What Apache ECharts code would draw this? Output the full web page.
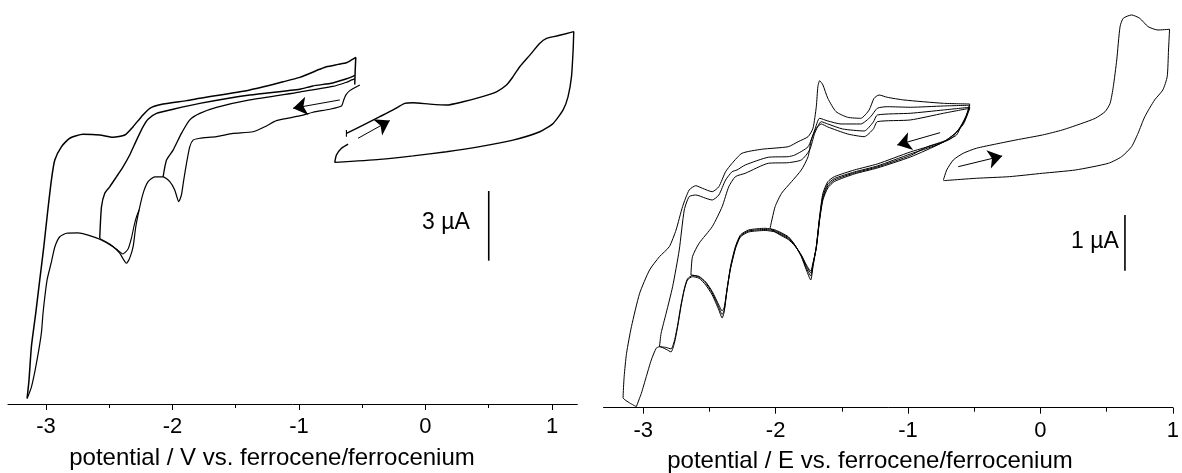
<!DOCTYPE html>
<html><head><meta charset="utf-8">
<script src="https://cdn.jsdelivr.net/npm/echarts@6/dist/echarts.min.js"></script>
<style>html,body{margin:0;padding:0;background:#fff}#c{width:1182px;height:473px}</style>
</head><body><div id="c"></div>
<script>
// ---- tick labels / titles ----
const xTickValues = [-3, -2, -1, 0, 1];
const xMinorTicks = [-2.5, -1.5, -0.5, 0.5];
const leftXTitle = 'potential / V vs. ferrocene/ferrocenium';
const rightXTitle = 'potential / E vs. ferrocene/ferrocenium';
const leftScaleLabel = '3 \u00b5A';
const rightScaleLabel = '1 \u00b5A';

// ---- left panel: [potential V, current µA] ----
const leftForward = [[-0.519,1.73],[-0.598,1.49],[-0.630,1.30],[-0.646,1.09],[-0.664,0.83],[-0.757,0.69],[-0.889,0.56],[-0.994,0.40],[-1.178,0.20],[-1.257,-0.03],[-1.363,-0.28],[-1.521,-0.35],[-1.652,-0.49],[-1.784,-0.56],[-1.837,-0.64],[-1.863,-0.92],[-1.889,-1.64],[-1.911,-2.36],[-1.929,-3.00],[-1.950,-3.29],[-1.982,-2.79],[-2.021,-2.43],[-2.074,-2.22],[-2.140,-2.22],[-2.193,-2.43],[-2.232,-2.93],[-2.264,-3.65],[-2.290,-4.37],[-2.311,-5.23],[-2.338,-5.72],[-2.364,-5.94],[-2.417,-5.51],[-2.470,-5.23],[-2.575,-4.91],[-2.667,-4.73],[-2.746,-4.63],[-2.838,-4.65],[-2.891,-4.80],[-2.930,-5.24],[-2.957,-5.89],[-2.991,-6.66],[-3.023,-8.08],[-3.036,-8.94],[-3.075,-10.24],[-3.115,-11.27],[-3.149,-11.76]];
const leftReturnOuter = [[-3.149,-11.76],[-3.134,-10.97],[-3.115,-9.53],[-3.081,-8.10],[-3.049,-6.66],[-3.017,-5.23],[-2.988,-3.79],[-2.957,-2.36],[-2.930,-1.50],[-2.877,-0.92],[-2.812,-0.56],[-2.707,-0.39],[-2.575,-0.42],[-2.470,-0.52],[-2.377,-0.42],[-2.311,-0.06],[-2.245,0.37],[-2.179,0.73],[-2.074,0.91],[-1.889,1.06],[-1.784,1.16],[-1.389,1.52],[-1.126,1.87],[-0.994,2.06],[-0.836,2.41],[-0.783,2.52],[-0.691,2.62],[-0.625,2.69],[-0.585,2.81],[-0.551,2.92],[-0.556,2.30],[-0.559,1.75]];
const leftForward26 = [[-2.575,-4.87],[-2.496,-5.11],[-2.443,-5.33],[-2.391,-5.54],[-2.351,-5.33],[-2.324,-4.85],[-2.304,-4.34],[-2.285,-3.95],[-2.264,-3.65]];
const leftReturn26 = [[-2.575,-4.87],[-2.561,-3.51],[-2.535,-2.93],[-2.496,-2.65],[-2.443,-2.22],[-2.391,-1.79],[-2.338,-1.28],[-2.284,-0.64],[-2.232,-0.06],[-2.193,0.26],[-2.126,0.51],[-1.995,0.69],[-1.784,0.94],[-1.389,1.30],[-0.994,1.55],[-0.891,1.69],[-0.733,1.82],[-0.630,1.99],[-0.583,2.08],[-0.559,2.15]];
const leftReturn205 = [[-2.074,-2.22],[-2.047,-1.50],[-1.995,-1.07],[-1.929,-0.35],[-1.863,0.23],[-1.784,0.51],[-1.652,0.77],[-1.389,1.09],[-0.994,1.43],[-0.733,1.67],[-0.630,1.84],[-0.583,1.95],[-0.559,2.00]];
const leftOxLoop = [[-0.625,-0.35],[-0.493,0.01],[-0.361,0.37],[-0.256,0.66],[-0.164,0.94],[-0.098,0.97],[0.034,0.91],[0.166,0.87],[0.297,1.01],[0.429,1.20],[0.561,1.44],[0.640,1.73],[0.692,2.09],[0.745,2.52],[0.825,3.02],[0.904,3.53],[0.957,3.74],[1.036,3.84],[1.101,3.93],[1.172,4.03],[1.167,3.24],[1.154,2.09],[1.127,1.23],[1.088,0.66],[1.009,0.08],[0.904,-0.28],[0.692,-0.64],[0.429,-0.92],[0.166,-1.14],[-0.098,-1.32],[-0.361,-1.47],[-0.717,-1.60],[-0.704,-1.28],[-0.664,-0.99],[-0.612,-0.81]];
const leftStartTick = [[-0.625,-0.20],[-0.625,-0.50]];
const leftArrows = [[[-0.677,1.09],[-1.047,0.73]], [[-0.533,-0.56],[-0.282,0.20]]];
const leftScaleBar = [[0.5,-2.83],[0.5,-5.83]];

// ---- right panel: [potential V, current µA] ----
const rightF1 = [[-0.534,0.453],[-0.559,0.255],[-0.596,0.076],[-0.634,-0.104],[-0.733,-0.229],[-0.983,-0.409],[-1.232,-0.624],[-1.406,-0.732],[-1.556,-0.852],[-1.606,-0.942],[-1.643,-1.150],[-1.668,-1.570],[-1.693,-2.109],[-1.718,-2.468],[-1.735,-2.707],[-1.768,-2.527],[-1.806,-2.288],[-1.855,-2.078],[-1.905,-1.929],[-2.004,-1.809],[-2.079,-1.779],[-2.204,-1.809],[-2.266,-1.899],[-2.304,-2.109],[-2.341,-2.468],[-2.367,-2.886],[-2.378,-3.066],[-2.391,-3.305],[-2.404,-3.389],[-2.429,-3.245],[-2.479,-2.976],[-2.528,-2.797],[-2.578,-2.676],[-2.628,-2.648],[-2.666,-2.707],[-2.690,-2.886],[-2.715,-3.186],[-2.740,-3.545],[-2.765,-3.843],[-2.790,-3.999],[-2.827,-3.951],[-2.877,-3.904],[-2.902,-3.933],[-2.939,-4.143],[-2.977,-4.443],[-3.014,-4.741],[-3.052,-4.982]];
const rightU1 = [[-3.052,-4.982],[-3.102,-4.915],[-3.152,-4.820],[-3.144,-4.443],[-3.126,-4.023],[-3.089,-3.545],[-3.027,-2.946],[-2.952,-2.527],[-2.877,-2.288],[-2.803,-2.109],[-2.752,-1.809],[-2.703,-1.391],[-2.653,-1.091],[-2.603,-1.014],[-2.553,-1.061],[-2.479,-1.122],[-2.429,-1.032],[-2.378,-0.763],[-2.329,-0.612],[-2.254,-0.432],[-2.105,-0.360],[-1.905,-0.314],[-1.830,-0.224],[-1.755,-0.134],[-1.718,0.017],[-1.693,0.404],[-1.681,0.763],[-1.668,0.871],[-1.643,0.794],[-1.606,0.555],[-1.544,0.315],[-1.456,0.214],[-1.357,0.196],[-1.294,0.345],[-1.257,0.555],[-1.219,0.614],[-1.157,0.573],[-1.032,0.525],[-0.733,0.465],[-0.534,0.453]];
const rightF2 = [[-0.534,0.430],[-0.566,0.202],[-0.611,0.022],[-0.671,-0.157],[-0.783,-0.283],[-0.983,-0.445],[-1.232,-0.660],[-1.406,-0.768],[-1.556,-0.885],[-1.606,-0.983],[-1.643,-1.199],[-1.668,-1.594],[-1.693,-2.114],[-1.718,-2.437],[-1.735,-2.635],[-1.768,-2.491],[-1.806,-2.276],[-1.855,-2.078],[-1.905,-1.944],[-2.004,-1.827],[-2.079,-1.800],[-2.204,-1.827],[-2.266,-1.917],[-2.304,-2.132],[-2.341,-2.491],[-2.367,-2.886],[-2.387,-3.245],[-2.404,-3.326],[-2.429,-3.200],[-2.479,-2.940],[-2.528,-2.761],[-2.578,-2.653],[-2.628,-2.626],[-2.666,-2.689],[-2.690,-2.868],[-2.715,-3.156],[-2.740,-3.515],[-2.765,-3.802],[-2.790,-3.945],[-2.827,-3.918],[-2.877,-3.904]];
const rightU2 = [[-2.877,-3.904],[-2.865,-3.664],[-2.827,-3.305],[-2.778,-2.827],[-2.728,-2.168],[-2.690,-1.450],[-2.653,-1.211],[-2.603,-1.181],[-2.528,-1.240],[-2.479,-1.271],[-2.429,-1.181],[-2.378,-0.912],[-2.329,-0.763],[-2.292,-0.732],[-2.229,-0.642],[-2.055,-0.504],[-1.905,-0.493],[-1.855,-0.463],[-1.755,-0.314],[-1.705,-0.014],[-1.668,0.196],[-1.606,0.148],[-1.506,0.094],[-1.357,0.094],[-1.282,0.225],[-1.232,0.376],[-1.157,0.404],[-0.983,0.394],[-0.733,0.417],[-0.534,0.430]];
const rightF3 = [[-0.534,0.394],[-0.574,0.148],[-0.626,-0.032],[-0.708,-0.193],[-0.858,-0.319],[-0.983,-0.472],[-1.232,-0.678],[-1.406,-0.786],[-1.556,-0.912],[-1.606,-1.019],[-1.643,-1.235],[-1.668,-1.612],[-1.693,-2.123],[-1.718,-2.420],[-1.735,-2.581],[-1.768,-2.455],[-1.806,-2.267],[-1.855,-2.087],[-1.905,-1.962],[-2.004,-1.845],[-2.079,-1.818],[-2.204,-1.845],[-2.266,-1.935],[-2.304,-2.150],[-2.341,-2.509],[-2.367,-2.868],[-2.387,-3.191],[-2.404,-3.263],[-2.429,-3.156],[-2.479,-2.913],[-2.528,-2.743],[-2.578,-2.644],[-2.640,-2.617]];
const rightU3 = [[-2.640,-2.617],[-2.628,-2.288],[-2.578,-2.048],[-2.479,-1.750],[-2.404,-1.391],[-2.354,-1.032],[-2.304,-0.852],[-2.229,-0.791],[-2.055,-0.612],[-1.905,-0.601],[-1.806,-0.552],[-1.743,-0.373],[-1.705,-0.073],[-1.656,0.135],[-1.606,0.094],[-1.494,0.004],[-1.331,-0.032],[-1.262,0.130],[-1.232,0.255],[-0.983,0.286],[-0.733,0.345],[-0.534,0.394]];
const rightF4 = [[-0.534,0.376],[-0.581,0.094],[-0.649,-0.086],[-0.746,-0.247],[-0.983,-0.499],[-1.232,-0.696],[-1.406,-0.804],[-1.556,-0.939],[-1.606,-1.055],[-1.643,-1.271],[-1.668,-1.630],[-1.693,-2.132],[-1.718,-2.402],[-1.735,-2.545],[-1.768,-2.437],[-1.806,-2.258],[-1.855,-2.096],[-1.905,-1.980],[-1.980,-1.881],[-2.042,-1.779]];
const rightU4 = [[-2.042,-1.779],[-2.004,-1.391],[-1.955,-1.150],[-1.880,-0.942],[-1.806,-0.732],[-1.755,-0.493],[-1.731,-0.193],[-1.693,0.017],[-1.656,0.094],[-1.606,0.040],[-1.456,-0.086],[-1.331,-0.134],[-1.262,0.004],[-1.232,0.135],[-0.983,0.166],[-0.733,0.286],[-0.534,0.376]];
const rightOxLoop = [[-0.733,-0.912],[-0.708,-0.732],[-0.658,-0.552],[-0.583,-0.432],[-0.484,-0.342],[-0.334,-0.265],[-0.185,-0.193],[0.015,-0.104],[0.165,-0.014],[0.314,0.106],[0.414,0.196],[0.488,0.315],[0.526,0.465],[0.550,0.763],[0.576,1.243],[0.601,1.841],[0.625,1.991],[0.688,2.051],[0.750,1.991],[0.813,1.841],[0.887,1.781],[0.975,1.794],[0.967,1.422],[0.957,0.943],[0.924,0.704],[0.862,0.525],[0.788,0.225],[0.737,-0.073],[0.688,-0.314],[0.613,-0.493],[0.513,-0.612],[0.264,-0.732],[0.015,-0.791],[-0.235,-0.852],[-0.484,-0.881],[-0.733,-0.924]];
const rightArrows = [[[-0.758,-0.062],[-1.082,-0.283]], [[-0.621,-0.673],[-0.289,-0.481]]];
const rightScaleBar = [[0.638,-1.54],[0.638,-2.54]];

const FONT = '"Liberation Sans", Arial, sans-serif';
const chart = echarts.init(document.getElementById('c'), null, {renderer: 'canvas'});

function curve(data, panel, width) {
  return {type: 'line', xAxisIndex: panel === 0 ? 0 : 2, yAxisIndex: panel,
    data: data, showSymbol: false, symbol: 'none', smooth: 0.2, clip: false,
    silent: true, lineStyle: {color: '#000', width: width || 1.1}};
}
function arrows(list, panel) {
  return {type: 'lines', coordinateSystem: 'cartesian2d', xAxisIndex: panel === 0 ? 0 : 2, yAxisIndex: panel,
    silent: true, symbol: ['none', 'arrow'], symbolSize: [0, 14],
    lineStyle: {color: '#000', width: 1, opacity: 1, curveness: 0},
    data: list.map(c => ({coords: c}))};
}
function mainX(grid, min, max) {
  return {type: 'value', gridIndex: grid, min: min, max: max, position: 'bottom',
    axisLine: {show: true, onZero: false, lineStyle: {color: '#000', width: 1}},
    axisTick: {show: true, customValues: xTickValues, length: 6, inside: false, lineStyle: {color: '#000', width: 1}},
    axisLabel: {show: true, customValues: xTickValues, color: '#000', fontSize: 22, fontFamily: FONT, margin: 12},
    splitLine: {show: false}};
}
function minorX(grid, min, max) {
  return {type: 'value', gridIndex: grid, min: min, max: max, position: 'bottom', offset: 0,
    axisLine: {show: false, onZero: false},
    axisTick: {show: true, customValues: xMinorTicks, length: 4, inside: false, lineStyle: {color: '#000', width: 1}},
    axisLabel: {show: false}, splitLine: {show: false}};
}

chart.setOption({
  animation: false,
  backgroundColor: '#fff',
  grid: [
    {left: 8, right: 604.7, top: 9.1, bottom: 69},
    {left: 603.5, right: 3.6, top: 1.1, bottom: 65.3}
  ],
  xAxis: [mainX(0, -3.3, 1.2), minorX(0, -3.3, 1.2), mainX(1, -3.3, 1.0), minorX(1, -3.3, 1.0)],
  yAxis: [
    {type: 'value', gridIndex: 0, min: -12, max: 5, show: false},
    {type: 'value', gridIndex: 1, min: -5, max: 2.3, show: false}
  ],
  series: [
    curve(leftForward, 0, 1.2), curve(leftReturnOuter, 0, 1.5), curve(leftForward26, 0, 1.1),
    curve(leftReturn26, 0, 1.4), curve(leftReturn205, 0, 1.3), curve(leftOxLoop, 0, 1.4),
    curve(leftStartTick, 0, 1.1), curve(leftScaleBar, 0, 1.6), arrows(leftArrows, 0),
    curve(rightF1, 1, 1), curve(rightU1, 1, 1), curve(rightF2, 1, 1), curve(rightU2, 1, 1),
    curve(rightF3, 1, 1), curve(rightU3, 1, 1), curve(rightF4, 1, 1), curve(rightU4, 1, 1),
    curve(rightOxLoop, 1, 1), curve(rightScaleBar, 1, 1.6), arrows(rightArrows, 1)
  ],
  graphic: [
    {type: 'text', x: 272, y: 458, style: {text: leftXTitle, font: '24px ' + FONT, fill: '#000', align: 'center', verticalAlign: 'middle', textAlign: 'center', textVerticalAlign: 'middle'}},
    {type: 'text', x: 870, y: 461, style: {text: rightXTitle, font: '24px ' + FONT, fill: '#000', align: 'center', verticalAlign: 'middle', textAlign: 'center', textVerticalAlign: 'middle'}},
    {type: 'text', x: 446, y: 223, style: {text: leftScaleLabel, font: '23px ' + FONT, fill: '#000', align: 'center', verticalAlign: 'middle', textAlign: 'center', textVerticalAlign: 'middle'}},
    {type: 'text', x: 1095, y: 242, style: {text: rightScaleLabel, font: '23px ' + FONT, fill: '#000', align: 'center', verticalAlign: 'middle', textAlign: 'center', textVerticalAlign: 'middle'}}
  ]
});
</script>
</body></html>
